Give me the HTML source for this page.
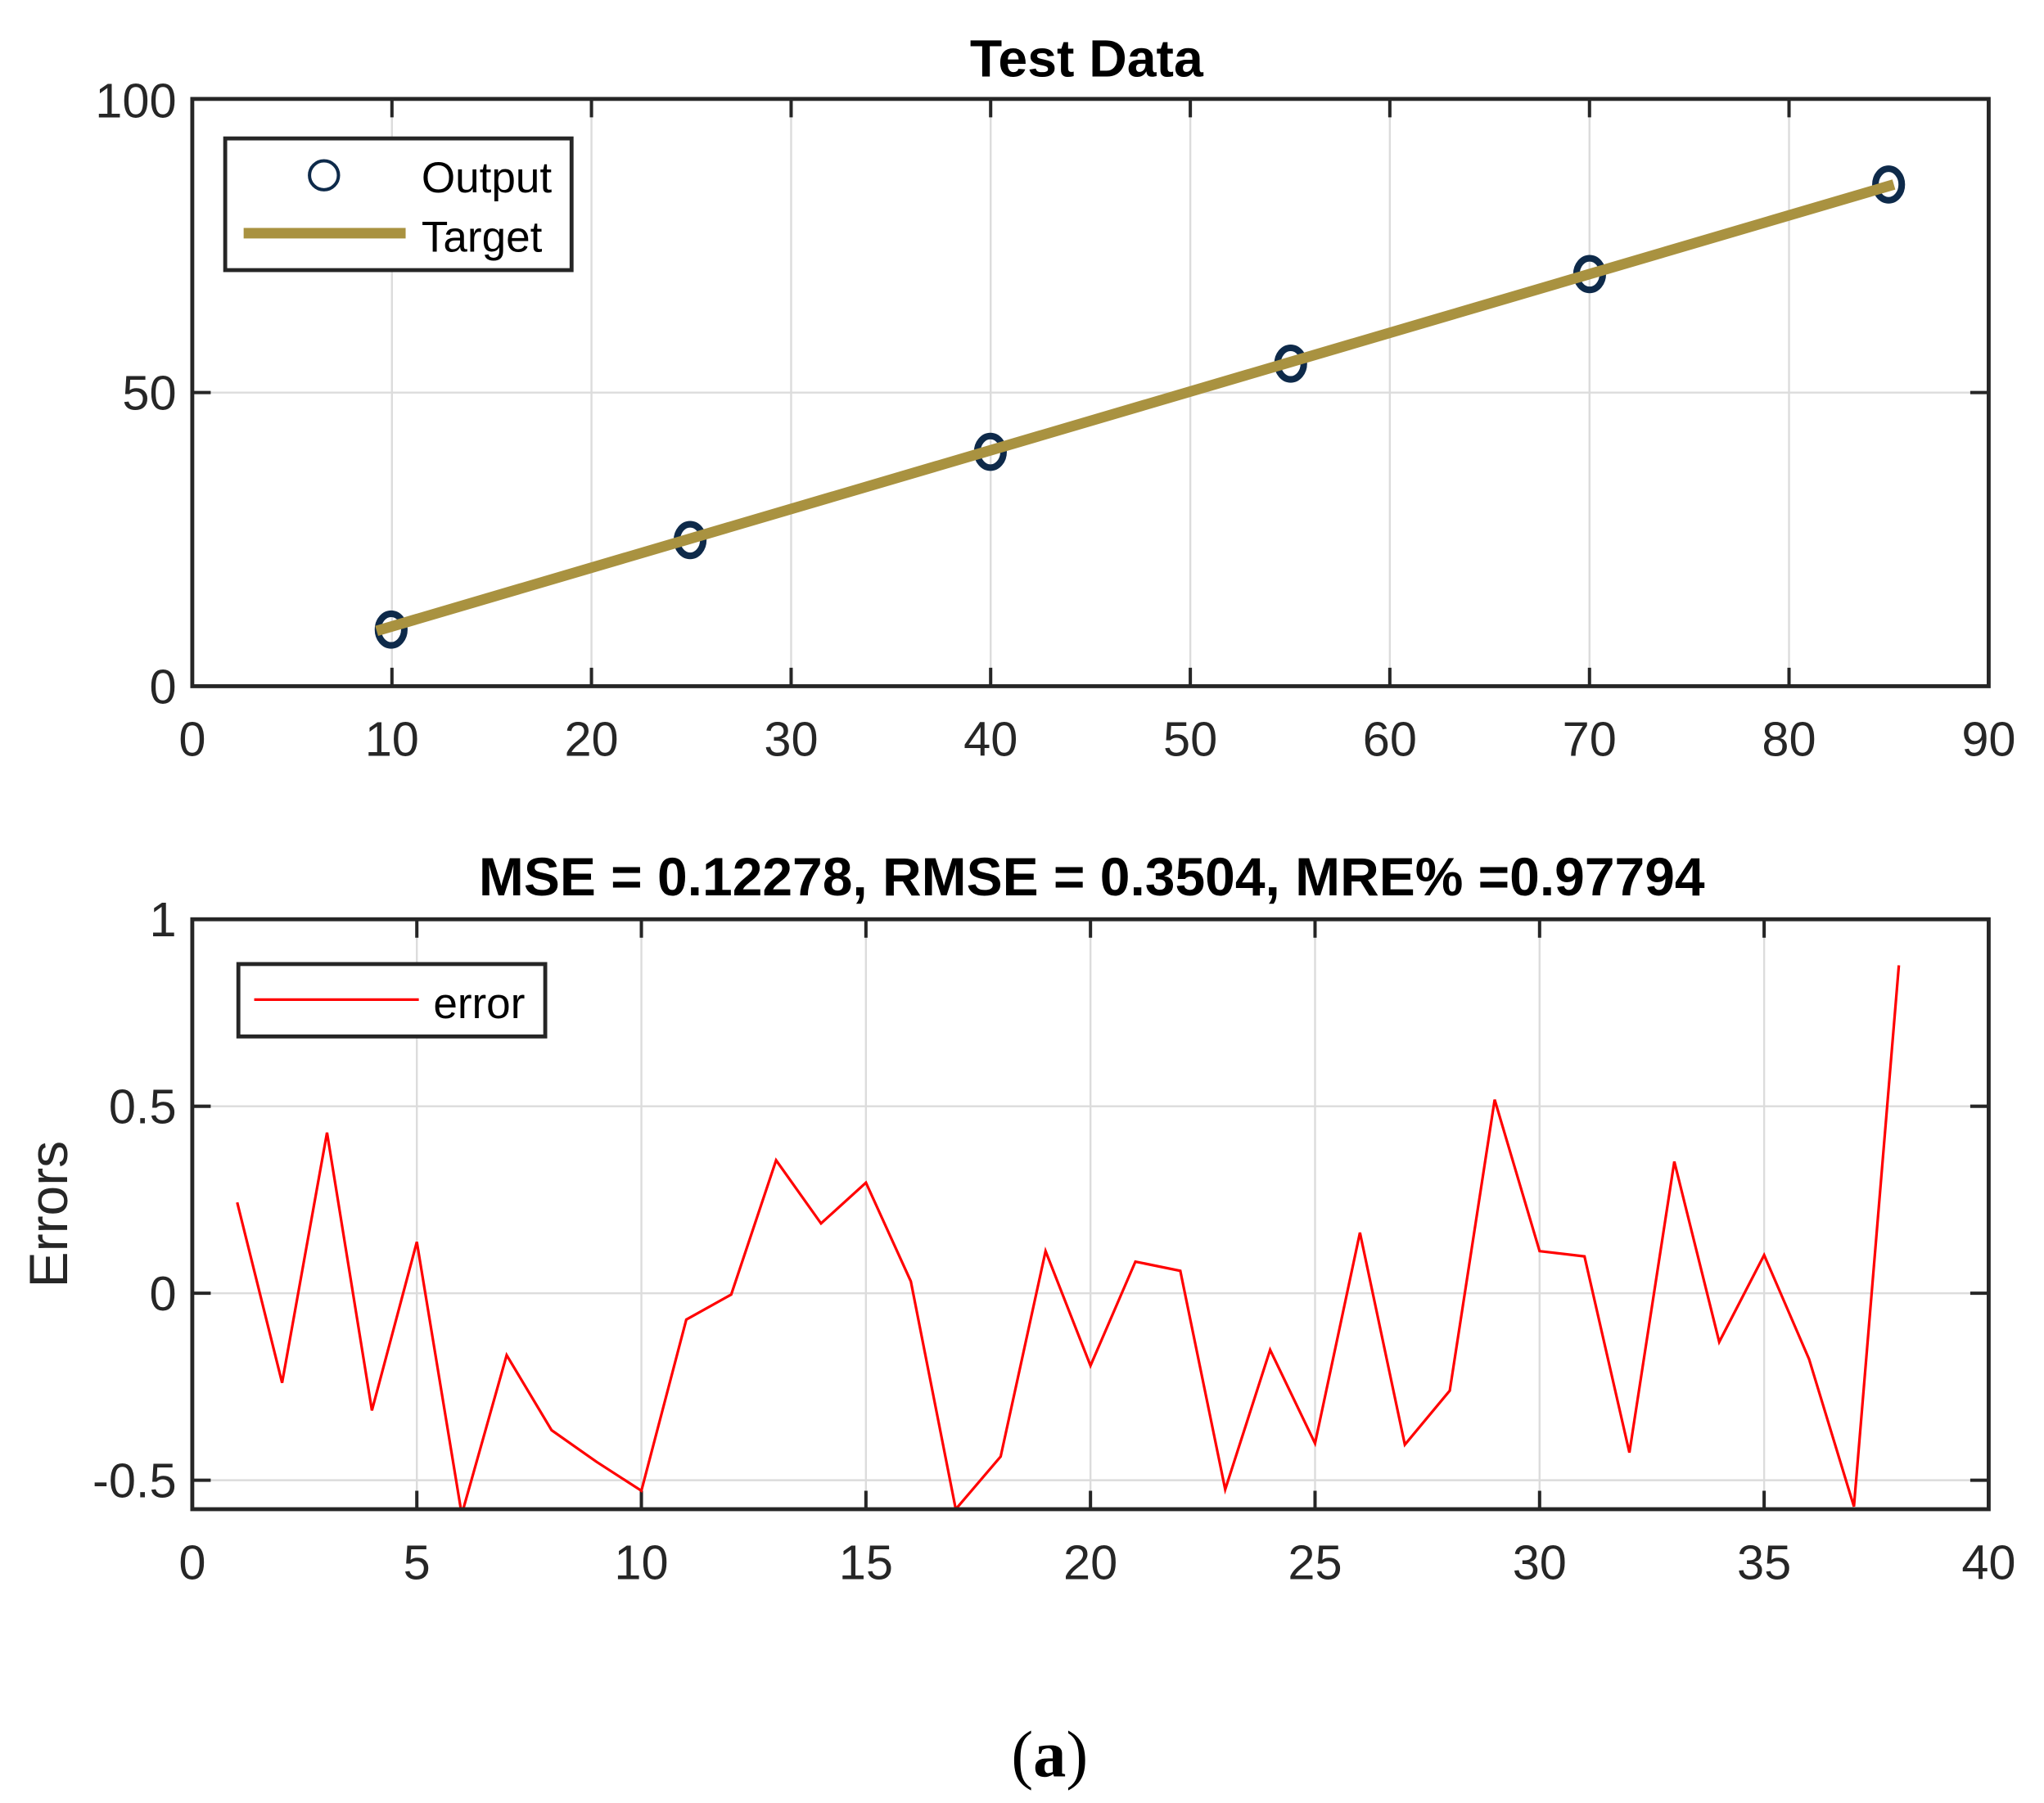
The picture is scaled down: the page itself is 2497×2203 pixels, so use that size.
<!DOCTYPE html>
<html><head><meta charset="utf-8"><style>
html,body{margin:0;padding:0;background:#fff;}
svg{display:block;}
text{font-family:"Liberation Sans",Arial,sans-serif;}
</style></head><body>
<svg width="2497" height="2203" viewBox="0 0 1552 1369" xmlns="http://www.w3.org/2000/svg">
<rect width="1552" height="1369" fill="#fff"/>
<!-- TOP PLOT -->
<g stroke="#dcdcdc" stroke-width="1.5">
<line x1="297.6" y1="75" x2="297.6" y2="521"/><line x1="449.1" y1="75" x2="449.1" y2="521"/>
<line x1="600.7" y1="75" x2="600.7" y2="521"/><line x1="752.2" y1="75" x2="752.2" y2="521"/>
<line x1="903.8" y1="75" x2="903.8" y2="521"/><line x1="1055.3" y1="75" x2="1055.3" y2="521"/>
<line x1="1206.9" y1="75" x2="1206.9" y2="521"/><line x1="1358.4" y1="75" x2="1358.4" y2="521"/>
<line x1="146" y1="298" x2="1510" y2="298"/>
</g>
<g stroke="#262626" stroke-width="2.5">
<path d="M297.6 521v-14M449.1 521v-14M600.7 521v-14M752.2 521v-14M903.8 521v-14M1055.3 521v-14M1206.9 521v-14M1358.4 521v-14"/>
<path d="M297.6 75v14M449.1 75v14M600.7 75v14M752.2 75v14M903.8 75v14M1055.3 75v14M1206.9 75v14M1358.4 75v14"/>
<path d="M146 298h14M1510 298h-14"/>
</g>
<g fill="none" stroke="#0E2A4A" stroke-width="5">
<ellipse cx="297" cy="478" rx="10" ry="12"/><ellipse cx="524" cy="410" rx="10" ry="12"/>
<ellipse cx="752" cy="343" rx="10" ry="12"/><ellipse cx="980" cy="276" rx="10" ry="12"/>
<ellipse cx="1207" cy="208" rx="10" ry="12"/><ellipse cx="1434" cy="140" rx="10" ry="12"/>
</g>
<line x1="286" y1="479" x2="1438" y2="140" stroke="#A99240" stroke-width="8"/>
<rect x="146" y="75" width="1364" height="446" fill="none" stroke="#262626" stroke-width="3"/>
<rect x="171" y="105" width="263" height="100" fill="#fff" stroke="#262626" stroke-width="3"/>
<circle cx="246" cy="133" r="11" fill="none" stroke="#0E2A4A" stroke-width="2.5"/>
<line x1="185" y1="177" x2="308" y2="177" stroke="#A99240" stroke-width="8"/>
<text x="320" y="146" font-size="33">Output</text>
<text x="320" y="191" font-size="33">Target</text>
<text x="825" y="58" font-size="40" font-weight="bold" text-anchor="middle">Test Data</text>
<g font-size="37" fill="#262626" text-anchor="end">
<text x="134" y="89">100</text><text x="134" y="311">50</text><text x="134" y="534">0</text>
</g>
<g font-size="37" fill="#262626" text-anchor="middle">
<text x="146" y="574">0</text><text x="297.6" y="574">10</text><text x="449.1" y="574">20</text>
<text x="600.7" y="574">30</text><text x="752.2" y="574">40</text><text x="903.8" y="574">50</text>
<text x="1055.3" y="574">60</text><text x="1206.9" y="574">70</text><text x="1358.4" y="574">80</text>
<text x="1510" y="574">90</text>
</g>
<!-- BOTTOM PLOT -->
<g stroke="#dcdcdc" stroke-width="1.5">
<line x1="316.5" y1="698" x2="316.5" y2="1146"/><line x1="487" y1="698" x2="487" y2="1146"/>
<line x1="657.5" y1="698" x2="657.5" y2="1146"/><line x1="828" y1="698" x2="828" y2="1146"/>
<line x1="998.5" y1="698" x2="998.5" y2="1146"/><line x1="1169" y1="698" x2="1169" y2="1146"/>
<line x1="1339.5" y1="698" x2="1339.5" y2="1146"/>
<line x1="146" y1="840" x2="1510" y2="840"/><line x1="146" y1="982" x2="1510" y2="982"/>
<line x1="146" y1="1124" x2="1510" y2="1124"/>
</g>
<g stroke="#262626" stroke-width="2.5">
<path d="M316.5 1146v-14M487 1146v-14M657.5 1146v-14M828 1146v-14M998.5 1146v-14M1169 1146v-14M1339.5 1146v-14"/>
<path d="M316.5 698v14M487 698v14M657.5 698v14M828 698v14M998.5 698v14M1169 698v14M1339.5 698v14"/>
<path d="M146 840h14M146 982h14M146 1124h14M1510 840h-14M1510 982h-14M1510 1124h-14"/>
</g>
<svg x="146" y="698" width="1364" height="448" viewBox="146 698 1364 448" overflow="hidden">
<polyline fill="none" stroke="#ff0000" stroke-width="2" points="180.1,913 214.2,1050 248.3,860 282.4,1071 316.5,943 350.6,1150 384.7,1029 418.8,1086 452.9,1110 487,1132 521.1,1002 555.2,983 589.3,881 623.4,929 657.5,898 691.6,973 725.7,1146 759.8,1106 793.9,950 828,1037 862.1,958 896.2,965 930.3,1131 964.4,1025 998.5,1096 1032.6,936 1066.7,1097 1100.8,1056 1134.9,835 1169,950 1203.1,954 1237.2,1103 1271.3,882 1305.4,1019 1339.5,953 1373.6,1032 1407.7,1144 1441.8,733"/>
</svg>
<rect x="146" y="698" width="1364" height="448" fill="none" stroke="#262626" stroke-width="3"/>
<rect x="181" y="732" width="233" height="55" fill="#fff" stroke="#262626" stroke-width="3"/>
<line x1="193" y1="759" x2="318" y2="759" stroke="#ff0000" stroke-width="2"/>
<text x="329" y="773" font-size="33">error</text>
<text x="829" y="680" font-size="41" font-weight="bold" text-anchor="middle">MSE = 0.12278, RMSE = 0.3504, MRE% =0.97794</text>
<g font-size="37" fill="#262626" text-anchor="end">
<text x="134" y="711">1</text><text x="134" y="853">0.5</text><text x="134" y="995">0</text><text x="134" y="1137">-0.5</text>
</g>
<text transform="translate(51,922) rotate(-90)" font-size="41" fill="#262626" text-anchor="middle">Errors</text>
<g font-size="37" fill="#262626" text-anchor="middle">
<text x="146" y="1199">0</text><text x="316.5" y="1199">5</text><text x="487" y="1199">10</text>
<text x="657.5" y="1199">15</text><text x="828" y="1199">20</text><text x="998.5" y="1199">25</text>
<text x="1169" y="1199">30</text><text x="1339.5" y="1199">35</text><text x="1510" y="1199">40</text>
</g>
<text x="797" y="1349" font-size="50" text-anchor="middle" style="font-family:'Liberation Serif',serif">(<tspan font-weight="bold">a</tspan>)</text>
</svg>
</body></html>
